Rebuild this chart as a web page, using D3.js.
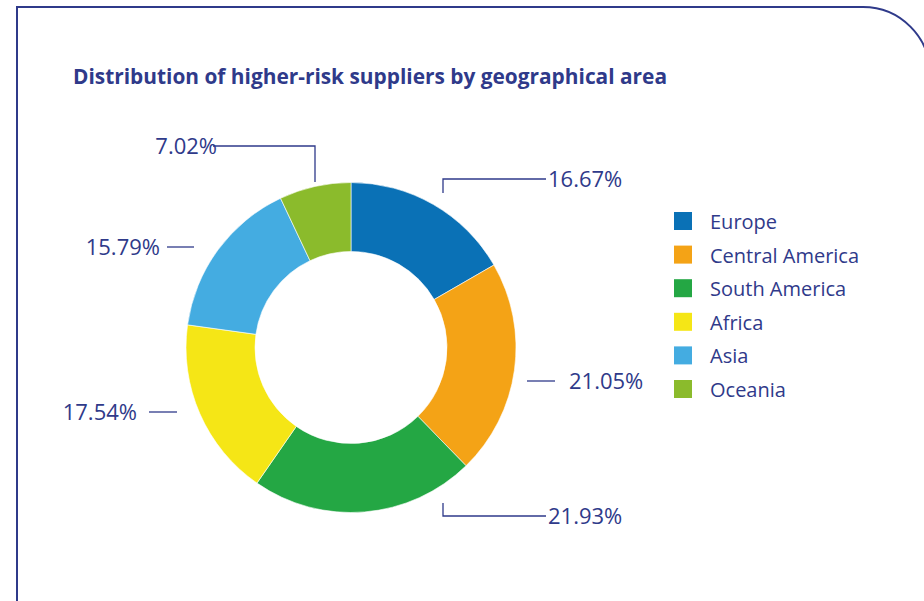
<!DOCTYPE html>
<html>
<head>
<meta charset="utf-8">
<script src="https://cdn.jsdelivr.net/npm/d3@7"></script>
<style>
  html, body { margin: 0; padding: 0; background: #ffffff; }
  svg { display: block; }
  text { font-family: "Open Sans", "DejaVu Sans", sans-serif; }
</style>
</head>
<body>
<svg id="chart" width="924" height="601"></svg>
<script>
// Share of higher-risk suppliers per region (percent)
const regions = ["Europe", "Central America", "South America", "Africa", "Asia", "Oceania"];
const shares = [16.67, 21.05, 21.93, 17.54, 15.79, 7.02];
const regionColors = ["#0a71b6", "#f4a316", "#24a744", "#f5e616", "#44ace1", "#8bbb2c"];
const titleText = "Distribution of higher-risk suppliers by geographical area";

const navy = "#2f3a8a";
const svg = d3.select("#chart");

// Panel outline with rounded top-right corner
const px0 = 17, py0 = 7, px1 = 930, py1 = 620, rc = 67;
svg.append("path")
  .attr("d", `M${px0},${py1} L${px0},${py0} L${px1 - rc},${py0} A${rc},${rc} 0 0 1 ${px1},${py0 + rc} L${px1},${py1}`)
  .attr("fill", "none")
  .attr("stroke", navy)
  .attr("stroke-width", 2);

// Title
svg.append("text")
  .attr("x", 73).attr("y", 84)
  .attr("font-size", 20.5)
  .attr("font-weight", 700)
  .attr("fill", navy)
  .attr("textLength", 594)
  .attr("lengthAdjust", "spacingAndGlyphs")
  .text(titleText);

// Donut
const cx = 351, cy = 347.5, rOuter = 165, rInner = 96;
const pie = d3.pie().sort(null).value(d => d.value);
const arcs = pie(regions.map((r, i) => ({ region: r, value: shares[i] })));
const arc = d3.arc().innerRadius(rInner).outerRadius(rOuter);
const color = d3.scaleOrdinal().domain(regions).range(regionColors);

const g = svg.append("g").attr("transform", `translate(${cx},${cy})`);
g.selectAll("path.slice")
  .data(arcs)
  .join("path")
  .attr("class", "slice")
  .attr("d", arc)
  .attr("fill", d => color(d.data.region))
  .attr("stroke", "#ffffff")
  .attr("stroke-width", 0.6);

// Value labels with leader lines (line points and text anchor, page coords)
const labelLayout = [
  { pts: [[443, 193], [443, 179], [546, 179]], tx: 548, ty: 187, anchor: "start" },
  { pts: [[527, 381], [555, 381]], tx: 569, ty: 389, anchor: "start" },
  { pts: [[443, 503], [443, 516], [546, 516]], tx: 548, ty: 524, anchor: "start" },
  { pts: [[149, 412], [177, 412]], tx: 137, ty: 420, anchor: "end" },
  { pts: [[167, 247], [194, 247]], tx: 160, ty: 255, anchor: "end" },
  { pts: [[315, 182], [315, 146], [213, 146]], tx: 217, ty: 154, anchor: "end" }
];
const line = d3.line();
arcs.forEach((a, i) => {
  const L = labelLayout[i];
  svg.append("path")
    .attr("d", line(L.pts))
    .attr("fill", "none")
    .attr("stroke", navy)
    .attr("stroke-width", 1.3);
  svg.append("text")
    .attr("x", L.tx).attr("y", L.ty)
    .attr("text-anchor", L.anchor)
    .attr("font-size", 22)
    .attr("fill", navy)
    .text(d3.format(".2f")(a.data.value) + "%");
});

// Legend
const legend = svg.append("g").attr("transform", "translate(674,212)");
const rowY = d3.scalePoint().domain(regions).range([0, 168]);
const rows = legend.selectAll("g.row").data(regions).join("g")
  .attr("class", "row")
  .attr("transform", d => `translate(0,${rowY(d)})`);
rows.append("rect")
  .attr("width", 18).attr("height", 18)
  .attr("fill", d => color(d));
rows.append("text")
  .attr("x", 36).attr("y", 17)
  .attr("font-size", 20)
  .attr("fill", navy)
  .text(d => d);
</script>
</body>
</html>
